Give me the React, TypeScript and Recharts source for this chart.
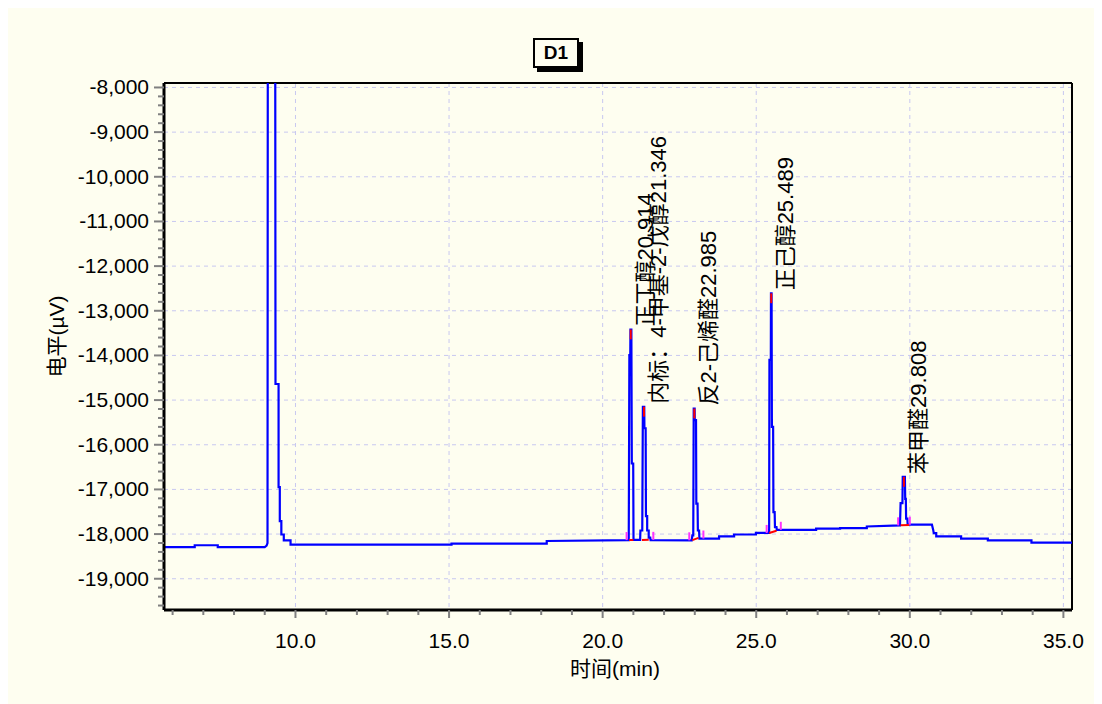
import {
  CartesianGrid,
  Label,
  Line,
  LineChart,
  ReferenceDot,
  ReferenceLine,
  XAxis,
  YAxis,
} from "recharts";

// detector trace (min, µV)
const times = [
  5.72, 6.72, 6.72, 7.47, 7.47, 9.0, 9.06, 9.09, 9.1, 9.34, 9.35, 9.45, 9.45, 9.49, 9.49, 9.54, 9.54, 9.62,
  9.62, 9.84, 9.84, 15.08, 15.08, 18.18, 18.18, 20.85, 20.87, 20.9, 20.905, 20.935, 20.95, 20.995, 21.005,
  21.22, 21.23, 21.29, 21.31, 21.355, 21.36, 21.4, 21.41, 21.45, 21.45, 21.5, 21.5, 21.55, 21.56, 22.9, 22.92,
  22.95, 22.965, 22.995, 23.0, 23.04, 23.05, 23.09, 23.1, 23.14, 23.15, 23.79, 23.79, 24.28, 24.28, 24.99,
  24.99, 25.42, 25.43, 25.475, 25.48, 25.5, 25.51, 25.55, 25.56, 25.6, 25.61, 25.66, 25.67, 26.95, 26.95,
  27.73, 27.73, 28.6, 28.6, 29.68, 29.7, 29.76, 29.77, 29.84, 29.85, 29.87, 29.88, 29.92, 29.93, 30.72, 30.76,
  30.78, 30.86, 30.86, 31.67, 31.67, 32.54, 32.54, 33.96, 33.96, 35.28,
];
const signal = [
  -18290, -18290, -18250, -18250, -18290, -18290, -18260, -18200, -6000, -6000, -14640, -14640, -16950,
  -16950, -17710, -17710, -18010, -18010, -18140, -18140, -18235, -18235, -18215, -18215, -18155, -18135,
  -13990, -13990, -13420, -13420, -16420, -16420, -18130, -18130, -17920, -17920, -15150, -15150, -15630,
  -15630, -17600, -17600, -17920, -17920, -18080, -18080, -18135, -18140, -18030, -18030, -15190, -15190,
  -15450, -15450, -17320, -17320, -17920, -17920, -18100, -18100, -18050, -18050, -18010, -18010, -17975,
  -17975, -14100, -14100, -12610, -12610, -15600, -15600, -17510, -17510, -17845, -17845, -17905, -17905,
  -17880, -17880, -17865, -17865, -17830, -17805, -17305, -17305, -16720, -16720, -17210, -17210, -17655,
  -17655, -17790, -17790, -17900, -17978, -17978, -18050, -18050, -18100, -18100, -18140, -18140, -18190,
  -18190,
];

// integrated peaks
const peakNames = ["正丁醇20.914", "内标：4-甲基-2-戊醇21.346", "反2-己烯醛22.985", "正己醇25.489", "苯甲醛29.808"];
const peakTimes = [20.914, 21.346, 22.985, 25.489, 29.808];
const peakTops = [-13420, -15150, -15190, -12610, -16720];
const peakBaseStart = [
  [20.86, -18135],
  [21.28, -18135],
  [22.92, -18135],
  [25.42, -17975],
  [29.7, -17805],
];
const peakBaseEnd = [
  [21.0, -18130],
  [21.5, -18125],
  [23.12, -18085],
  [25.66, -17925],
  [29.98, -17795],
];

// start / end markers of the integration
const markTimes = [20.78, 21.65, 22.82, 23.28, 25.34, 25.8, 29.62, 30.0];
const markBases = [-18135, -18130, -18140, -18100, -17975, -17905, -17805, -17790];

const xMajor = [10, 15, 20, 25, 30, 35];
const xTicks = [6, 7, 8, 9, 10, 11, 12, 13, 14, 15, 16, 17, 18, 19, 20, 21, 22, 23, 24, 25, 26, 27, 28, 29, 30, 31, 32, 33, 34, 35];
const yMajor = [-8000, -9000, -10000, -11000, -12000, -13000, -14000, -15000, -16000, -17000, -18000, -19000];
const yMinorStep = 200;

const rows = times.map((t, i) => ({ t, v: signal[i] }));
const yTicks: number[] = [];
for (let v = -19600; v <= -8000; v += yMinorStep) yTicks.push(v);

const FONT = '"Liberation Sans", Arial, "Noto Sans CJK SC", sans-serif';

function XTick({ x, y, payload }: any) {
  const major = xMajor.includes(payload.value);
  return (
    <g>
      <line x1={x} y1={y} x2={x} y2={y + (major ? 8 : 5)} stroke="#808080" strokeWidth={2} />
      {major && (
        <text x={x} y={y + 38} textAnchor="middle" fontSize={21} fontFamily={FONT} fill="#000">
          {payload.value.toFixed(1)}
        </text>
      )}
    </g>
  );
}

function YTick({ x, y, payload }: any) {
  const major = yMajor.includes(payload.value);
  return (
    <g>
      <line x1={x} y1={y} x2={x - (major ? 10 : 6)} y2={y} stroke="#808080" strokeWidth={2} />
      {major && (
        <text x={x - 15} y={y + 7} textAnchor="end" fontSize={21} fontFamily={FONT} fill="#000">
          {payload.value.toLocaleString("en-US")}
        </text>
      )}
    </g>
  );
}

function PeakLabel({ cx, cy, text }: any) {
  const x = cx + 22;
  const y = cy - 3;
  return (
    <text x={x} y={y} transform={`rotate(-90 ${x} ${y})`} fontSize={22} fontFamily={FONT} fill="#000">
      {text}
    </text>
  );
}

export default function App() {
  return (
    <div style={{ position: "relative", width: 1094, height: 696, background: "#FEFEF0" }}>
      <div
        style={{
          position: "absolute",
          left: 525,
          top: 30,
          width: 42,
          height: 26,
          border: "2px solid #000",
          boxShadow: "4px 4px 0 #000",
          background: "#FEFEF0",
          fontFamily: FONT,
          fontWeight: "bold",
          fontSize: 19,
          lineHeight: "26px",
          textAlign: "center",
        }}
      >
        D1
      </div>
      <LineChart width={1094} height={696} data={rows} margin={{ top: 75, right: 30, bottom: 24, left: 26 }}>
        <CartesianGrid
          stroke="#c8c8f0"
          strokeDasharray="4 4"
          strokeWidth={1}
          verticalValues={xMajor}
          horizontalValues={yMajor}
        />
        <XAxis
          dataKey="t"
          type="number"
          domain={[5.72, 35.28]}
          allowDataOverflow
          ticks={xTicks}
          interval={0}
          tick={<XTick />}
          tickLine={false}
          tickSize={0}
          tickMargin={0}
          height={70}
          axisLine={{ stroke: "#000", strokeWidth: 3 }}
        >
          <Label
            content={({ viewBox }: any) => (
              <text
                x={viewBox.x + viewBox.width / 2 - 3}
                y={viewBox.y + 66}
                textAnchor="middle"
                fontSize={21}
                fontFamily={FONT}
                fill="#000"
              >
                时间(min)
              </text>
            )}
          />
        </XAxis>
        <YAxis
          type="number"
          domain={[-19700, -7900]}
          allowDataOverflow
          ticks={yTicks}
          interval={0}
          tick={<YTick />}
          tickLine={false}
          tickSize={0}
          tickMargin={0}
          width={130}
          axisLine={{ stroke: "#000", strokeWidth: 3 }}
        >
          <Label
            content={({ viewBox }: any) => {
              const x = viewBox.x + 30;
              const y = viewBox.y + viewBox.height / 2 - 10;
              return (
                <text
                  x={x}
                  y={y}
                  transform={`rotate(-90 ${x} ${y})`}
                  textAnchor="middle"
                  fontSize={21}
                  fontFamily={FONT}
                  fill="#000"
                >
                  电平(µV)
                </text>
              );
            }}
          />
        </YAxis>
        <ReferenceLine y={-7900} stroke="#000" strokeWidth={2} />
        <ReferenceLine x={35.28} stroke="#000" strokeWidth={2} />
        <Line
          dataKey="v"
          type="linear"
          stroke="#0000ff"
          strokeWidth={2.2}
          dot={false}
          isAnimationActive={false}
        />
        {peakBaseStart.map((s, i) => (
          <ReferenceLine
            key={`b${i}`}
            segment={[
              { x: s[0], y: s[1] },
              { x: peakBaseEnd[i][0], y: peakBaseEnd[i][1] },
            ]}
            stroke="#ff0000"
            strokeWidth={2}
          />
        ))}
        {markTimes.map((t, i) => (
          <ReferenceLine
            key={`m${i}`}
            segment={[
              { x: t, y: markBases[i] },
              { x: t, y: markBases[i] + 180 },
            ]}
            stroke="#ff33ff"
            strokeWidth={2}
          />
        ))}
        {peakTimes.map((t, i) => (
          <ReferenceLine
            key={`a${i}`}
            segment={[
              { x: t, y: peakTops[i] },
              { x: t, y: peakTops[i] - 220 },
            ]}
            stroke="#ff0000"
            strokeWidth={2}
          />
        ))}
        {peakTimes.map((t, i) => (
          <ReferenceDot
            key={`l${i}`}
            x={t}
            y={peakTops[i]}
            r={0}
            shape={(p: any) => <PeakLabel cx={p.cx} cy={p.cy} text={peakNames[i]} />}
          />
        ))}
      </LineChart>
    </div>
  );
}
